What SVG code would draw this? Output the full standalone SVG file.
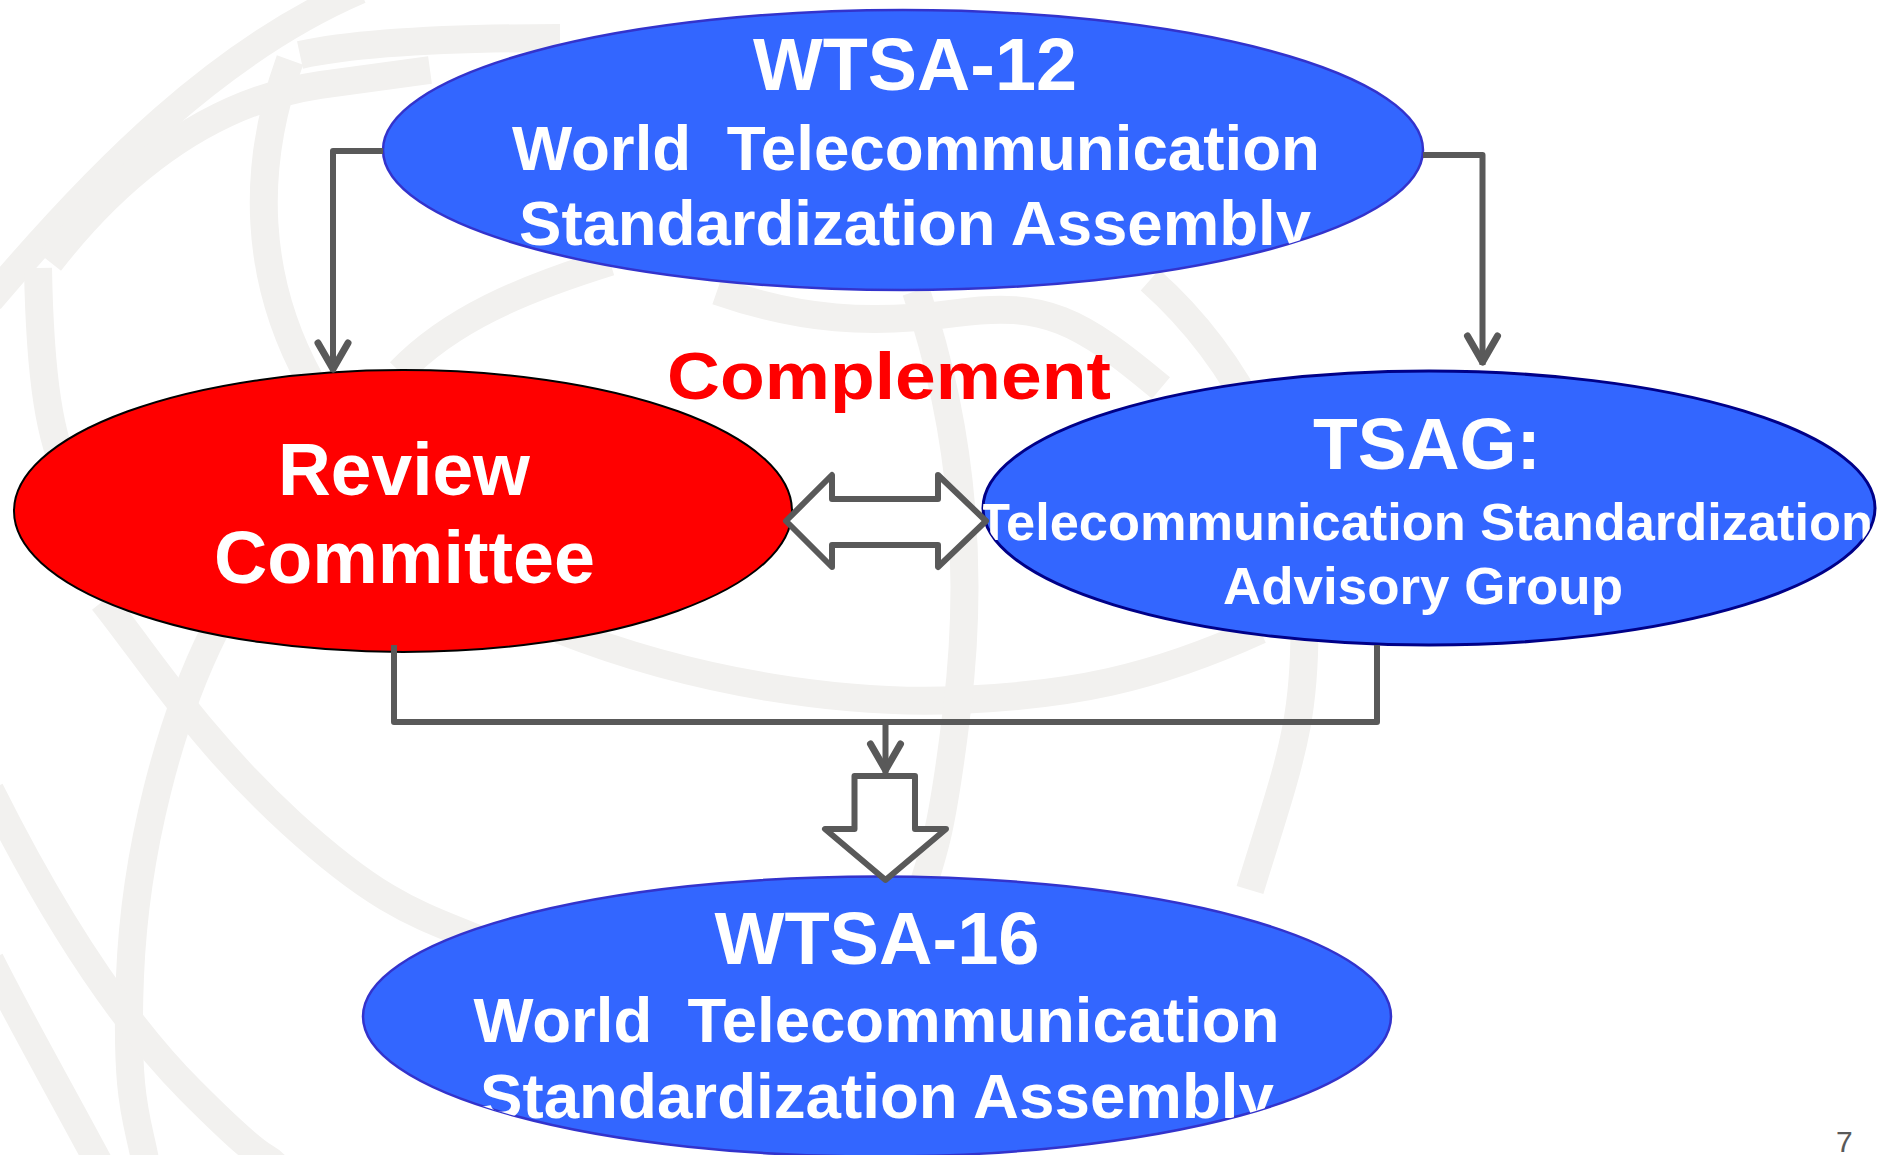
<svg xmlns="http://www.w3.org/2000/svg" width="1890" height="1155" viewBox="0 0 1890 1155">
<style>
.bg{fill:none;stroke:#F2F1EF;stroke-width:28;stroke-linecap:butt}
.blue{fill:#3366FF;stroke:#3333CC;stroke-width:2.5}
.navy{fill:#3366FF;stroke:#000088;stroke-width:3}
.red{fill:#FF0000;stroke:#000000;stroke-width:2}
.t{font-family:"Liberation Sans",Arial,sans-serif;font-weight:bold;fill:#FFFFFF}
.conn{fill:none;stroke:#595959;stroke-width:6;stroke-linejoin:round}
.hollow{fill:#FFFFFF;stroke:#595959;stroke-width:6;stroke-linejoin:round}
</style>
<defs>
<marker id="chev" markerUnits="userSpaceOnUse" orient="auto" markerWidth="44" markerHeight="44" viewBox="-38 -22 44 44" refX="0" refY="0">
<path d="M -29 -15 L -3 0 L -29 15" fill="none" stroke="#595959" stroke-width="7" stroke-linecap="round" stroke-linejoin="round"/>
</marker>
<clipPath id="c12"><ellipse cx="903" cy="150" rx="520" ry="140"/></clipPath>
<clipPath id="crc"><ellipse cx="403" cy="511" rx="389" ry="141"/></clipPath>
<clipPath id="cts"><ellipse cx="1429" cy="508" rx="446" ry="137"/></clipPath>
<clipPath id="c16"><ellipse cx="877" cy="1016.5" rx="514" ry="140"/></clipPath>
</defs>
<rect x="0" y="0" width="1890" height="1155" fill="#FFFFFF"/>
<g id="background">
<path class="bg" d="M -10 300 C 100 170 220 50 360 -10"/>
<path class="bg" d="M 50 262 C 130 160 220 100 320 85 L 430 70"/>
<path class="bg" d="M 300 55 C 360 42 450 38 560 38"/>
<path class="bg" d="M 290 60 C 250 170 255 280 310 380"/>
<path class="bg" d="M 38 268 C 40 380 50 440 70 480"/>
<path class="bg" d="M 610 262 C 520 290 450 320 400 372"/>
<path class="bg" d="M 103 601 C 150 660 200 740 291 823 S 420 915 480 940"/>
<path class="bg" d="M 214 632 C 170 720 135 850 130 976 S 138 1120 145 1160"/>
<path class="bg" d="M -10 790 C 40 890 110 1010 191 1091 S 260 1150 275 1165"/>
<path class="bg" d="M -10 960 C 20 1020 60 1090 100 1165"/>
<path class="bg" d="M 560 630 C 700 685 850 705 960 700 S 1150 680 1260 630"/>
<path class="bg" d="M 916 291 C 960 420 975 560 957 709 S 930 860 905 940"/>
<path class="bg" d="M 1150 280 C 1240 360 1300 480 1304 600 S 1290 760 1250 890"/>
<path class="bg" d="M 717 291 C 800 320 870 325 957 313 S 1080 320 1161 388"/>
</g>
<g id="wtsa12">
<ellipse class="blue" cx="903" cy="150" rx="520" ry="140"/>
<g clip-path="url(#c12)">
<text class="t" x="753" y="90" font-size="74" textLength="324" lengthAdjust="spacingAndGlyphs">WTSA-12</text>
<text class="t" x="512" y="169.5" font-size="63" textLength="808" lengthAdjust="spacingAndGlyphs" xml:space="preserve">World  Telecommunication</text>
<text class="t" x="519" y="245" font-size="63" textLength="792" lengthAdjust="spacingAndGlyphs">Standardization Assembly</text>
</g>
</g>
<g id="review">
<ellipse class="red" cx="403" cy="511" rx="389" ry="141"/>
<g clip-path="url(#crc)">
<text class="t" x="278" y="495" font-size="74" textLength="252" lengthAdjust="spacingAndGlyphs">Review</text>
<text class="t" x="214" y="583" font-size="74" textLength="381" lengthAdjust="spacingAndGlyphs">Committee</text>
</g>
</g>
<g id="tsag">
<ellipse class="navy" cx="1429" cy="508" rx="446" ry="137"/>
<g clip-path="url(#cts)">
<text class="t" x="1313" y="469" font-size="72" textLength="228" lengthAdjust="spacingAndGlyphs">TSAG:</text>
<text class="t" x="978" y="540" font-size="52" textLength="895" lengthAdjust="spacingAndGlyphs">Telecommunication Standardization</text>
<text class="t" x="1223" y="604" font-size="52" textLength="400" lengthAdjust="spacingAndGlyphs">Advisory Group</text>
</g>
</g>
<g id="wtsa16">
<ellipse class="blue" cx="877" cy="1016.5" rx="514" ry="140"/>
<g clip-path="url(#c16)">
<text class="t" x="714.5" y="963.5" font-size="74" textLength="325" lengthAdjust="spacingAndGlyphs">WTSA-16</text>
<text class="t" x="473.5" y="1042" font-size="63" textLength="806" lengthAdjust="spacingAndGlyphs" xml:space="preserve">World  Telecommunication</text>
<text class="t" x="480" y="1118" font-size="63" textLength="794" lengthAdjust="spacingAndGlyphs">Standardization Assembly</text>
</g>
</g>
<g id="connectors">
<path class="conn" d="M 383 151 L 333 151 L 333 372" marker-end="url(#chev)"/>
<path class="conn" d="M 1423 155 L 1482.5 155 L 1482.5 365" marker-end="url(#chev)"/>
<path class="conn" d="M 394 645 L 394 722 L 1377 722 L 1377 645"/>
<path class="conn" d="M 885.5 722 L 885.5 773" marker-end="url(#chev)"/>
<polygon class="hollow" points="786,521 832,475 832,499 938,499 938,475 986,521 938,567 938,545 832,545 832,567"/>
<polygon class="hollow" points="854.5,776 915,776 915,829 946,829 885.5,880 825,829 854.5,829"/>
<text x="667" y="399" font-family="'Liberation Sans',Arial,sans-serif" font-weight="bold" font-size="67" fill="#FF0000" textLength="444" lengthAdjust="spacingAndGlyphs">Complement</text>
</g>
<text x="1836" y="1152" font-family="'Liberation Sans',Arial,sans-serif" font-size="30" fill="#595959">7</text>
</svg>
